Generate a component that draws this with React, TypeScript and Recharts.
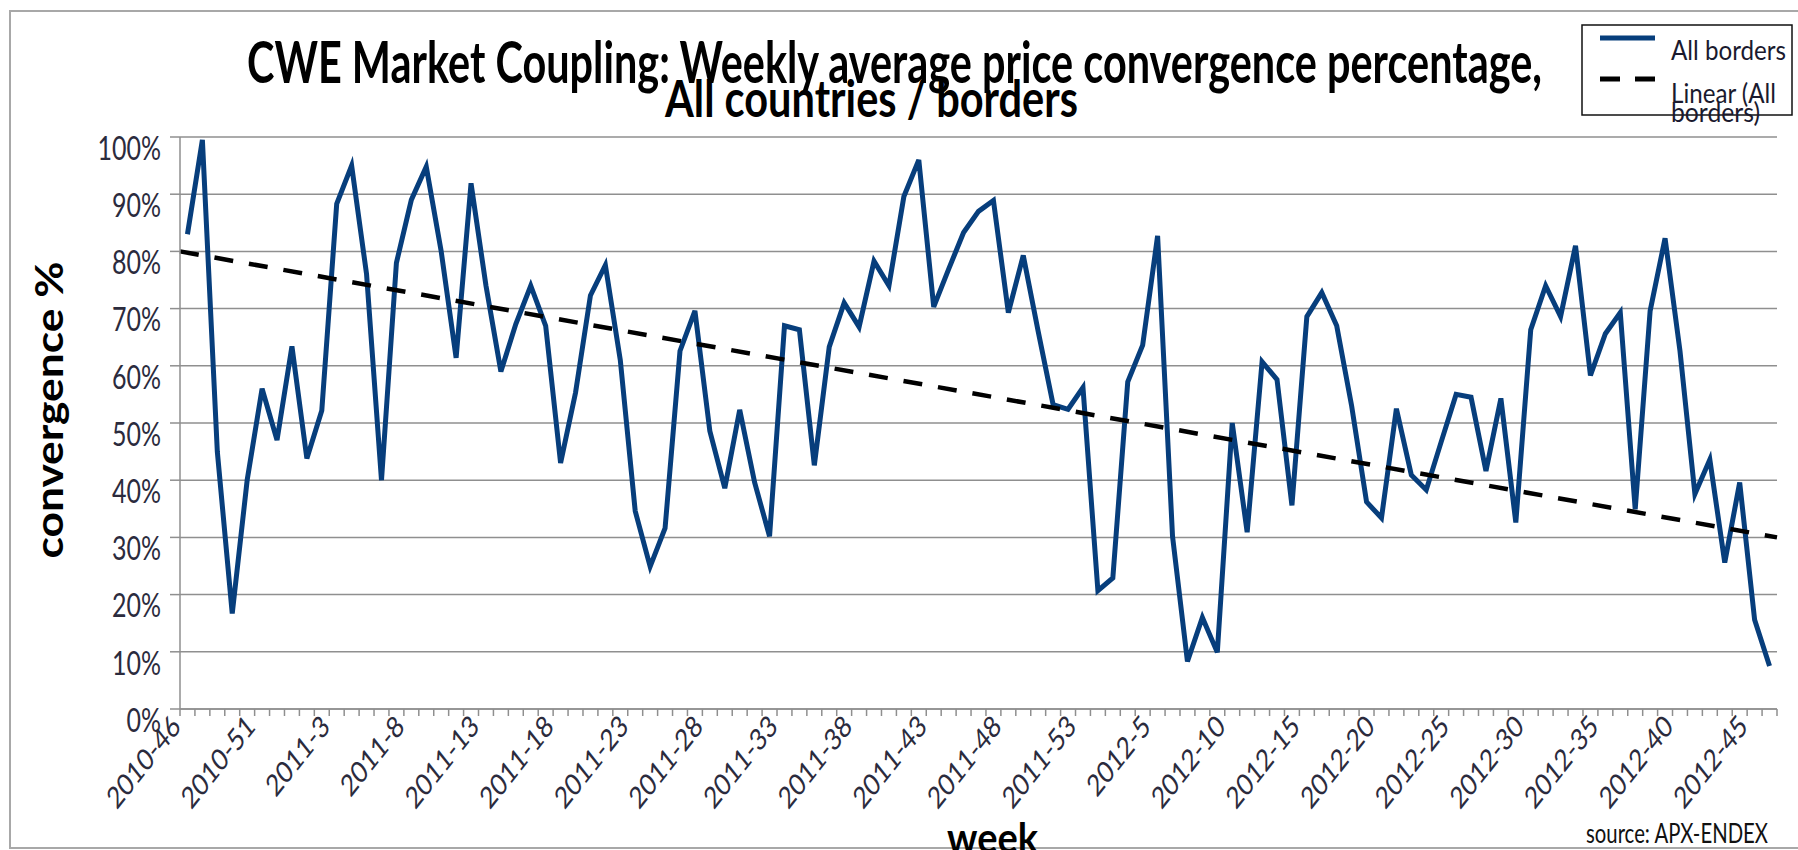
import React from 'react';
import { LineChart, Line, XAxis, YAxis, CartesianGrid, ReferenceLine } from 'recharts';

// week ranges shown on the category axis: [year, first week, last week]
const yearWeeks: [number, number, number][] = [
  [2010, 46, 53],
  [2011, 1, 53],
  [2012, 1, 46],
];

const weeks: string[] = yearWeeks.flatMap(([year, from, to]) =>
  Array.from({ length: to - from + 1 }, (_, i) => `${year}-${from + i}`)
);

// weekly average convergence, %
const convergence: number[] = [
  83, 99.5, 45, 16.7, 40, 56, 47, 63.4, 43.8, 52.2,
  88.3, 95, 76, 40, 78, 89, 94.8, 80, 61.4, 91.9,
  74, 59, 67.3, 74, 67, 43, 55.3, 72.3, 77.6, 61,
  34.6, 24.9, 31.6, 62.6, 69.6, 48.6, 38.6, 52.3, 39.6, 30.2,
  67, 66.3, 42.6, 63.3, 71, 66.8, 78.3, 74, 89.6, 96,
  70.3, 76.9, 83.3, 87, 88.9, 69.3, 79.3, 66, 53.2, 52.4,
  56.2, 20.7, 22.9, 57.2, 63.6, 82.7, 30.2, 8.3, 16, 9.9,
  50, 30.9, 60.7, 57.6, 35.6, 68.6, 72.8, 67, 53, 36.2,
  33.4, 52.5, 40.9, 38.3, 46.7, 55, 54.5, 41.6, 54.3, 32.6,
  66.3, 74, 68.6, 81, 58.3, 65.6, 69.3, 34.9, 69.6, 82.3,
  62.6, 37.6, 43.6, 25.6, 39.6, 15.6, 7.5,
];

const yTicks = [0, 10, 20, 30, 40, 50, 60, 70, 80, 90, 100];

// linear trend, value at the left and right edge of the plot
const trendStart = 80;
const trendEnd = 30;

// pos = centre of each week's slot, used by the hidden trend axis
const data = weeks.map((week, i) => ({ week, pos: i + 0.5, value: convergence[i] }));

const W = 1798;
const H = 850;
const plotLeft = 180;
const plotRight = 1777;
const plotTop = 137;
const plotBottom = 709;
const band = (plotRight - plotLeft) / weeks.length;

const grey = '#8f8f8f';
const tickText = '#2b2b3d';
const font = 'Lato, "Open Sans", sans-serif';

const YTick = (props: any) => {
  const { x, y, payload } = props;
  return (
    <g transform={`translate(${x},${y + 10}) scale(1,1.3)`}>
      <text x={0} y={0} textAnchor="end" dominantBaseline="central" fontSize={25} fill={tickText} fontFamily={font}>
        {payload.value}%
      </text>
    </g>
  );
};

const XTick = (props: any) => {
  const { x, y, payload, index } = props;
  const i = typeof index === 'number' ? index : payload.index;
  const half = band / 2;
  return (
    <g>
      <line x1={x - half} x2={x - half} y1={y} y2={y + 7} stroke={grey} strokeWidth={1.5} />
      {i === weeks.length - 1 && (
        <line x1={x + half} x2={x + half} y1={y} y2={y + 7} stroke={grey} strokeWidth={1.5} />
      )}
      {i % 5 === 0 && (
        <g transform={`translate(${x - 12},${y + 11}) scale(1,1.26) rotate(-45)`}>
          <text x={0} y={0} textAnchor="end" dominantBaseline="central" fontSize={24} fill={tickText} fontFamily={font}>
            {payload.value}
          </text>
        </g>
      )}
    </g>
  );
};

export default function App() {
  return (
    <div style={{ position: 'absolute', left: 0, top: 0, width: W, height: H, background: '#fff', overflow: 'hidden' }}>
      <LineChart
        width={W}
        height={H}
        data={data}
        margin={{ top: plotTop, right: W - plotRight, bottom: 0, left: 0 }}
      >
        <CartesianGrid vertical={false} stroke={grey} strokeWidth={1.5} />
        <XAxis
          dataKey="week"
          scale="band"
          interval={0}
          height={H - plotBottom}
          tick={<XTick />}
          tickLine={false}
          tickSize={0}
          tickMargin={0}
          axisLine={{ stroke: grey, strokeWidth: 1.5 }}
        />
        <XAxis
          xAxisId="trend"
          dataKey="pos"
          type="number"
          domain={[0, weeks.length]}
          allowDataOverflow
          hide
        />
        <YAxis
          width={plotLeft}
          domain={[0, 100]}
          ticks={yTicks}
          interval={0}
          tick={<YTick />}
          tickSize={10}
          tickMargin={9}
          tickLine={{ stroke: grey, strokeWidth: 1.5 }}
          axisLine={{ stroke: grey, strokeWidth: 1.5 }}
        />
        <Line
          type="linear"
          dataKey="value"
          stroke="#073e7c"
          strokeWidth={5}
          dot={false}
          activeDot={false}
          isAnimationActive={false}
        />
        <ReferenceLine
          xAxisId="trend"
          segment={[
            { x: 0, y: trendStart },
            { x: weeks.length, y: trendEnd },
          ]}
          ifOverflow="visible"
          stroke="#000"
          strokeWidth={4.5}
          strokeDasharray="19 16"
        />
      </LineChart>

      <svg width={W} height={H} style={{ position: 'absolute', left: 0, top: 0, pointerEvents: 'none' }}>
        <rect x={10} y={11} width={W} height={837} fill="none" stroke="#a8a8a8" strokeWidth={2} />

        <text x={247} y={83} fontSize={58} fontWeight={700} fontFamily={font} fill="#000" textLength={1295} lengthAdjust="spacingAndGlyphs">
          CWE Market Coupling: Weekly average price convergence percentage,
        </text>
        <text x={665} y={117} fontSize={52} fontWeight={700} fontFamily={font} fill="#000" textLength={413} lengthAdjust="spacingAndGlyphs">
          All countries / borders
        </text>

        <text
          transform="translate(63,410) rotate(-90)"
          x={0}
          y={0}
          textAnchor="middle"
          fontSize={38}
          fontWeight={700}
          fontFamily={font}
          fill="#000"
          textLength={297}
          lengthAdjust="spacingAndGlyphs"
        >
          convergence %
        </text>

        <text x={947} y={853} fontSize={42} fontWeight={700} fontFamily={font} fill="#000" textLength={91} lengthAdjust="spacingAndGlyphs">
          week
        </text>
        <text x={1586} y={843} fontSize={27} fontFamily={font} fill="#111" textLength={182} lengthAdjust="spacingAndGlyphs">
          source: APX-ENDEX
        </text>

        <rect x={1582} y={25} width={210} height={90} fill="#fff" stroke="#111" strokeWidth={1.5} />
        <line x1={1600} x2={1655} y1={38} y2={38} stroke="#073e7c" strokeWidth={5} />
        <text x={1671} y={60} fontSize={27} fontFamily={font} fill="#1a1a2e" textLength={115} lengthAdjust="spacingAndGlyphs">
          All borders
        </text>
        <line x1={1600} x2={1655} y1={79} y2={79} stroke="#000" strokeWidth={5} strokeDasharray="20 15" />
        <text x={1671} y={103} fontSize={27} fontFamily={font} fill="#1a1a2e" textLength={105} lengthAdjust="spacingAndGlyphs">
          Linear (All
        </text>
        <text x={1671} y={122} fontSize={27} fontFamily={font} fill="#1a1a2e" textLength={89} lengthAdjust="spacingAndGlyphs">
          borders)
        </text>
      </svg>
    </div>
  );
}
